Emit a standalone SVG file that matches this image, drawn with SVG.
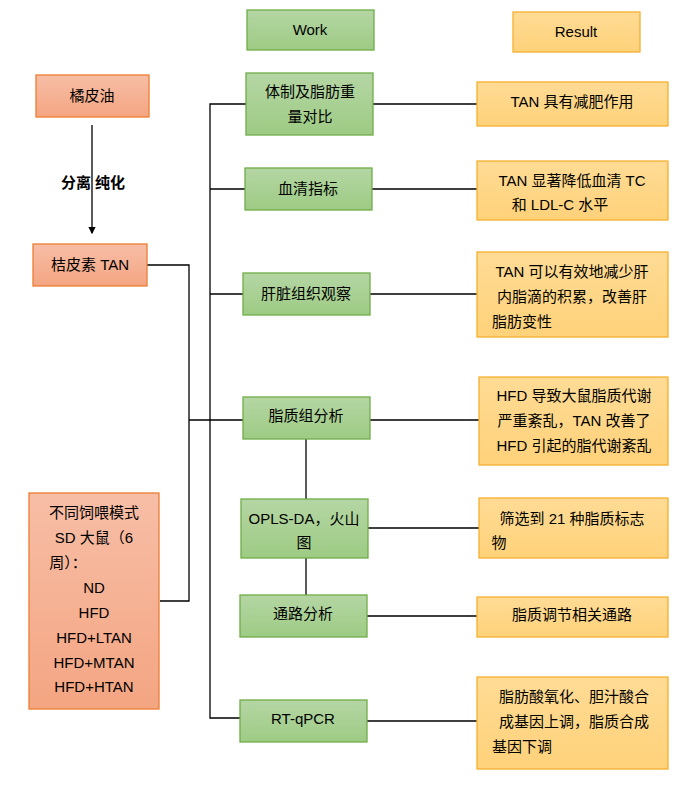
<svg xmlns="http://www.w3.org/2000/svg" width="691" height="794" viewBox="0 0 691 794">
<style>
text{font-family:"Liberation Sans","Noto Sans CJK SC",sans-serif;font-size:15px;fill:#000;text-anchor:middle}
.o{fill:url(#go);stroke:#ED7D31;stroke-width:1.3}
.g{fill:url(#gg);stroke:#70AD47;stroke-width:1.3}
.y{fill:url(#gy);stroke:#F5B030;stroke-width:1.3}
.c{fill:none;stroke:#000;stroke-width:1.3}
</style>
<defs>
<linearGradient id="go" x1="0" y1="0" x2="0" y2="1"><stop offset="0" stop-color="#F7BEA6"/><stop offset="1" stop-color="#F4A582"/></linearGradient>
<linearGradient id="gg" x1="0" y1="0" x2="0" y2="1"><stop offset="0" stop-color="#B5D6A4"/><stop offset="1" stop-color="#9DCB84"/></linearGradient>
<linearGradient id="gy" x1="0" y1="0" x2="0" y2="1"><stop offset="0" stop-color="#FFDB95"/><stop offset="1" stop-color="#FFD27A"/></linearGradient>
<marker id="ar" markerWidth="6" markerHeight="6" refX="5" refY="3" orient="auto"><path d="M0,0L6,3L0,6z" fill="#000"/></marker>
</defs>
<g id="connectors">
<path class="c" d="M92,125V233" marker-end="url(#ar)"/>
<path class="c" d="M147,265H189V601H160M189,420H243"/>
<path class="c" d="M246,104H210V718H240M210,189H245M210,294H243"/>
<path class="c" d="M306,439V499M306,558V595"/>
<path class="c" d="M373,104H477M372,189H477M370,294H477M370,420H479M368,528H479M367,616H477M367,721H477"/>
</g>
<g id="work"><rect class="g" x="247" y="10" width="127" height="40"/><text x="310" y="35">Work</text></g>
<g id="result"><rect class="y" x="513" y="12" width="127" height="40"/><text x="576" y="37">Result</text></g>
<g id="jupiyou"><rect class="o" x="36" y="75" width="113" height="42"/><text x="92" y="101">橘皮油</text></g>
<text x="93" y="188" style="font-weight:bold">分离  纯化</text>
<g id="tan"><rect class="o" x="33" y="244" width="114" height="42"/><text x="90" y="270">桔皮素 TAN</text></g>
<g id="groups"><rect class="o" x="29" y="493" width="130" height="216"/>
<text x="94" y="518">不同饲喂模式</text><text x="94" y="543">SD 大鼠（6</text><text x="68" y="568">周）：</text>
<text x="94" y="593">ND</text><text x="94" y="618">HFD</text><text x="94" y="643">HFD+LTAN</text><text x="94" y="668">HFD+MTAN</text><text x="94" y="692">HFD+HTAN</text></g>
<g id="w1"><rect class="g" x="246" y="73" width="127" height="62"/><text x="310" y="97">体制及脂肪重</text><text x="310" y="122">量对比</text></g>
<g id="w2"><rect class="g" x="245" y="168" width="127" height="42"/><text x="308" y="194">血清指标</text></g>
<g id="w3"><rect class="g" x="243" y="273" width="127" height="42"/><text x="306" y="299">肝脏组织观察</text></g>
<g id="w4"><rect class="g" x="243" y="397" width="127" height="42"/><text x="306" y="421">脂质组分析</text></g>
<g id="w5"><rect class="g" x="241" y="499" width="127" height="59"/><text x="304" y="524">OPLS-DA，火山</text><text x="304" y="548">图</text></g>
<g id="w6"><rect class="g" x="240" y="595" width="127" height="42"/><text x="303" y="619">通路分析</text></g>
<g id="w7"><rect class="g" x="240" y="700" width="127" height="42"/><text x="303" y="724">RT-qPCR</text></g>
<g id="r1"><rect class="y" x="477" y="82" width="191" height="44"/><text x="572" y="107">TAN 具有减肥作用</text></g>
<g id="r2"><rect class="y" x="477" y="161" width="191" height="59"/><text x="572" y="186">TAN 显著降低血清 TC</text><text x="560" y="210">和 LDL-C 水平</text></g>
<g id="r3"><rect class="y" x="477" y="252" width="191" height="85"/><text x="572" y="277">TAN 可以有效地减少肝</text><text x="572" y="302">内脂滴的积累，改善肝</text><text x="522" y="327">脂肪变性</text></g>
<g id="r4"><rect class="y" x="479" y="377" width="189" height="88"/><text x="574" y="401">HFD 导致大鼠脂质代谢</text><text x="574" y="426">严重紊乱，TAN 改善了</text><text x="574" y="451">HFD 引起的脂代谢紊乱</text></g>
<g id="r5"><rect class="y" x="479" y="498" width="189" height="60"/><text x="572" y="524">筛选到 21 种脂质标志</text><text x="499" y="548">物</text></g>
<g id="r6"><rect class="y" x="477" y="597" width="191" height="40"/><text x="572" y="620">脂质调节相关通路</text></g>
<g id="r7"><rect class="y" x="477" y="677" width="191" height="92"/><text x="574" y="702">脂肪酸氧化、胆汁酸合</text><text x="574" y="727">成基因上调，脂质合成</text><text x="522" y="752">基因下调</text></g>
</svg>
